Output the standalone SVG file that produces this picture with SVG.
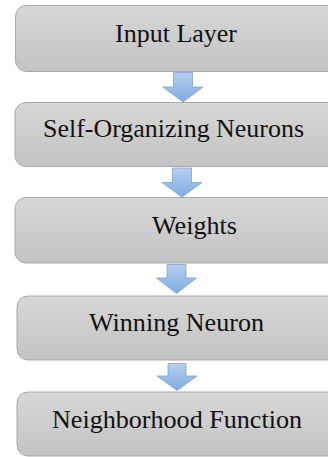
<svg xmlns="http://www.w3.org/2000/svg" width="328" height="457" viewBox="0 0 328 457">
  <defs>
    <linearGradient id="boxFill" x1="0" y1="0" x2="0" y2="1">
      <stop offset="0" stop-color="#d7d7d7"/>
      <stop offset="1" stop-color="#c3c3c3"/>
    </linearGradient>
    <linearGradient id="arrowFill" x1="0" y1="0" x2="0" y2="1">
      <stop offset="0" stop-color="#b6d0f0"/>
      <stop offset="1" stop-color="#7faae0"/>
    </linearGradient>
  </defs>
  <style>
    .box { fill: url(#boxFill); stroke: #a9a9a9; stroke-width: 1; }
    .label { font-family: "Liberation Serif", "Times New Roman", serif; font-size: 25px; fill: #111; }
    .arrow { fill: url(#arrowFill); stroke: #7aa2d4; stroke-width: 0.8; stroke-linejoin: miter; }
  </style>

  <!-- stacked process boxes, running off the right edge -->
  <g id="node-input-layer">
    <rect class="box" x="15.5" y="5.5" width="330" height="66" rx="11"/>
    <text class="label" x="115" y="42" textLength="122" lengthAdjust="spacingAndGlyphs">Input Layer</text>
  </g>
  <g id="node-self-organizing-neurons">
    <rect class="box" x="15" y="102.5" width="330" height="64" rx="11"/>
    <text class="label" x="43" y="137" textLength="261" lengthAdjust="spacingAndGlyphs">Self-Organizing Neurons</text>
  </g>
  <g id="node-weights">
    <rect class="box" x="15" y="197.5" width="330" height="65.5" rx="11"/>
    <text class="label" x="152" y="233.5" textLength="85" lengthAdjust="spacingAndGlyphs">Weights</text>
  </g>
  <g id="node-winning-neuron">
    <rect class="box" x="17" y="296" width="330" height="64" rx="11"/>
    <text class="label" x="89" y="331" textLength="175" lengthAdjust="spacingAndGlyphs">Winning Neuron</text>
  </g>
  <g id="node-neighborhood-function">
    <rect class="box" x="17" y="392" width="330" height="64" rx="11"/>
    <text class="label" x="52" y="428" textLength="250" lengthAdjust="spacingAndGlyphs">Neighborhood Function</text>
  </g>

  <!-- block arrows between consecutive boxes -->
  <g id="connectors">
    <polygon class="arrow" points="173.5,72.5 192.5,72.5 192.5,87 203,87 183,102 163,87 173.5,87"/>
    <polygon class="arrow" points="172.5,168 191.5,168 191.5,182.5 202,182.5 182,197 162,182.5 172.5,182.5"/>
    <polygon class="arrow" points="167,264.5 186,264.5 186,278 196.5,278 176.5,293.5 156.5,278 167,278"/>
    <polygon class="arrow" points="168,363.5 186,363.5 186,376 197,376 177,390.5 157,376 168,376"/>
  </g>
</svg>
